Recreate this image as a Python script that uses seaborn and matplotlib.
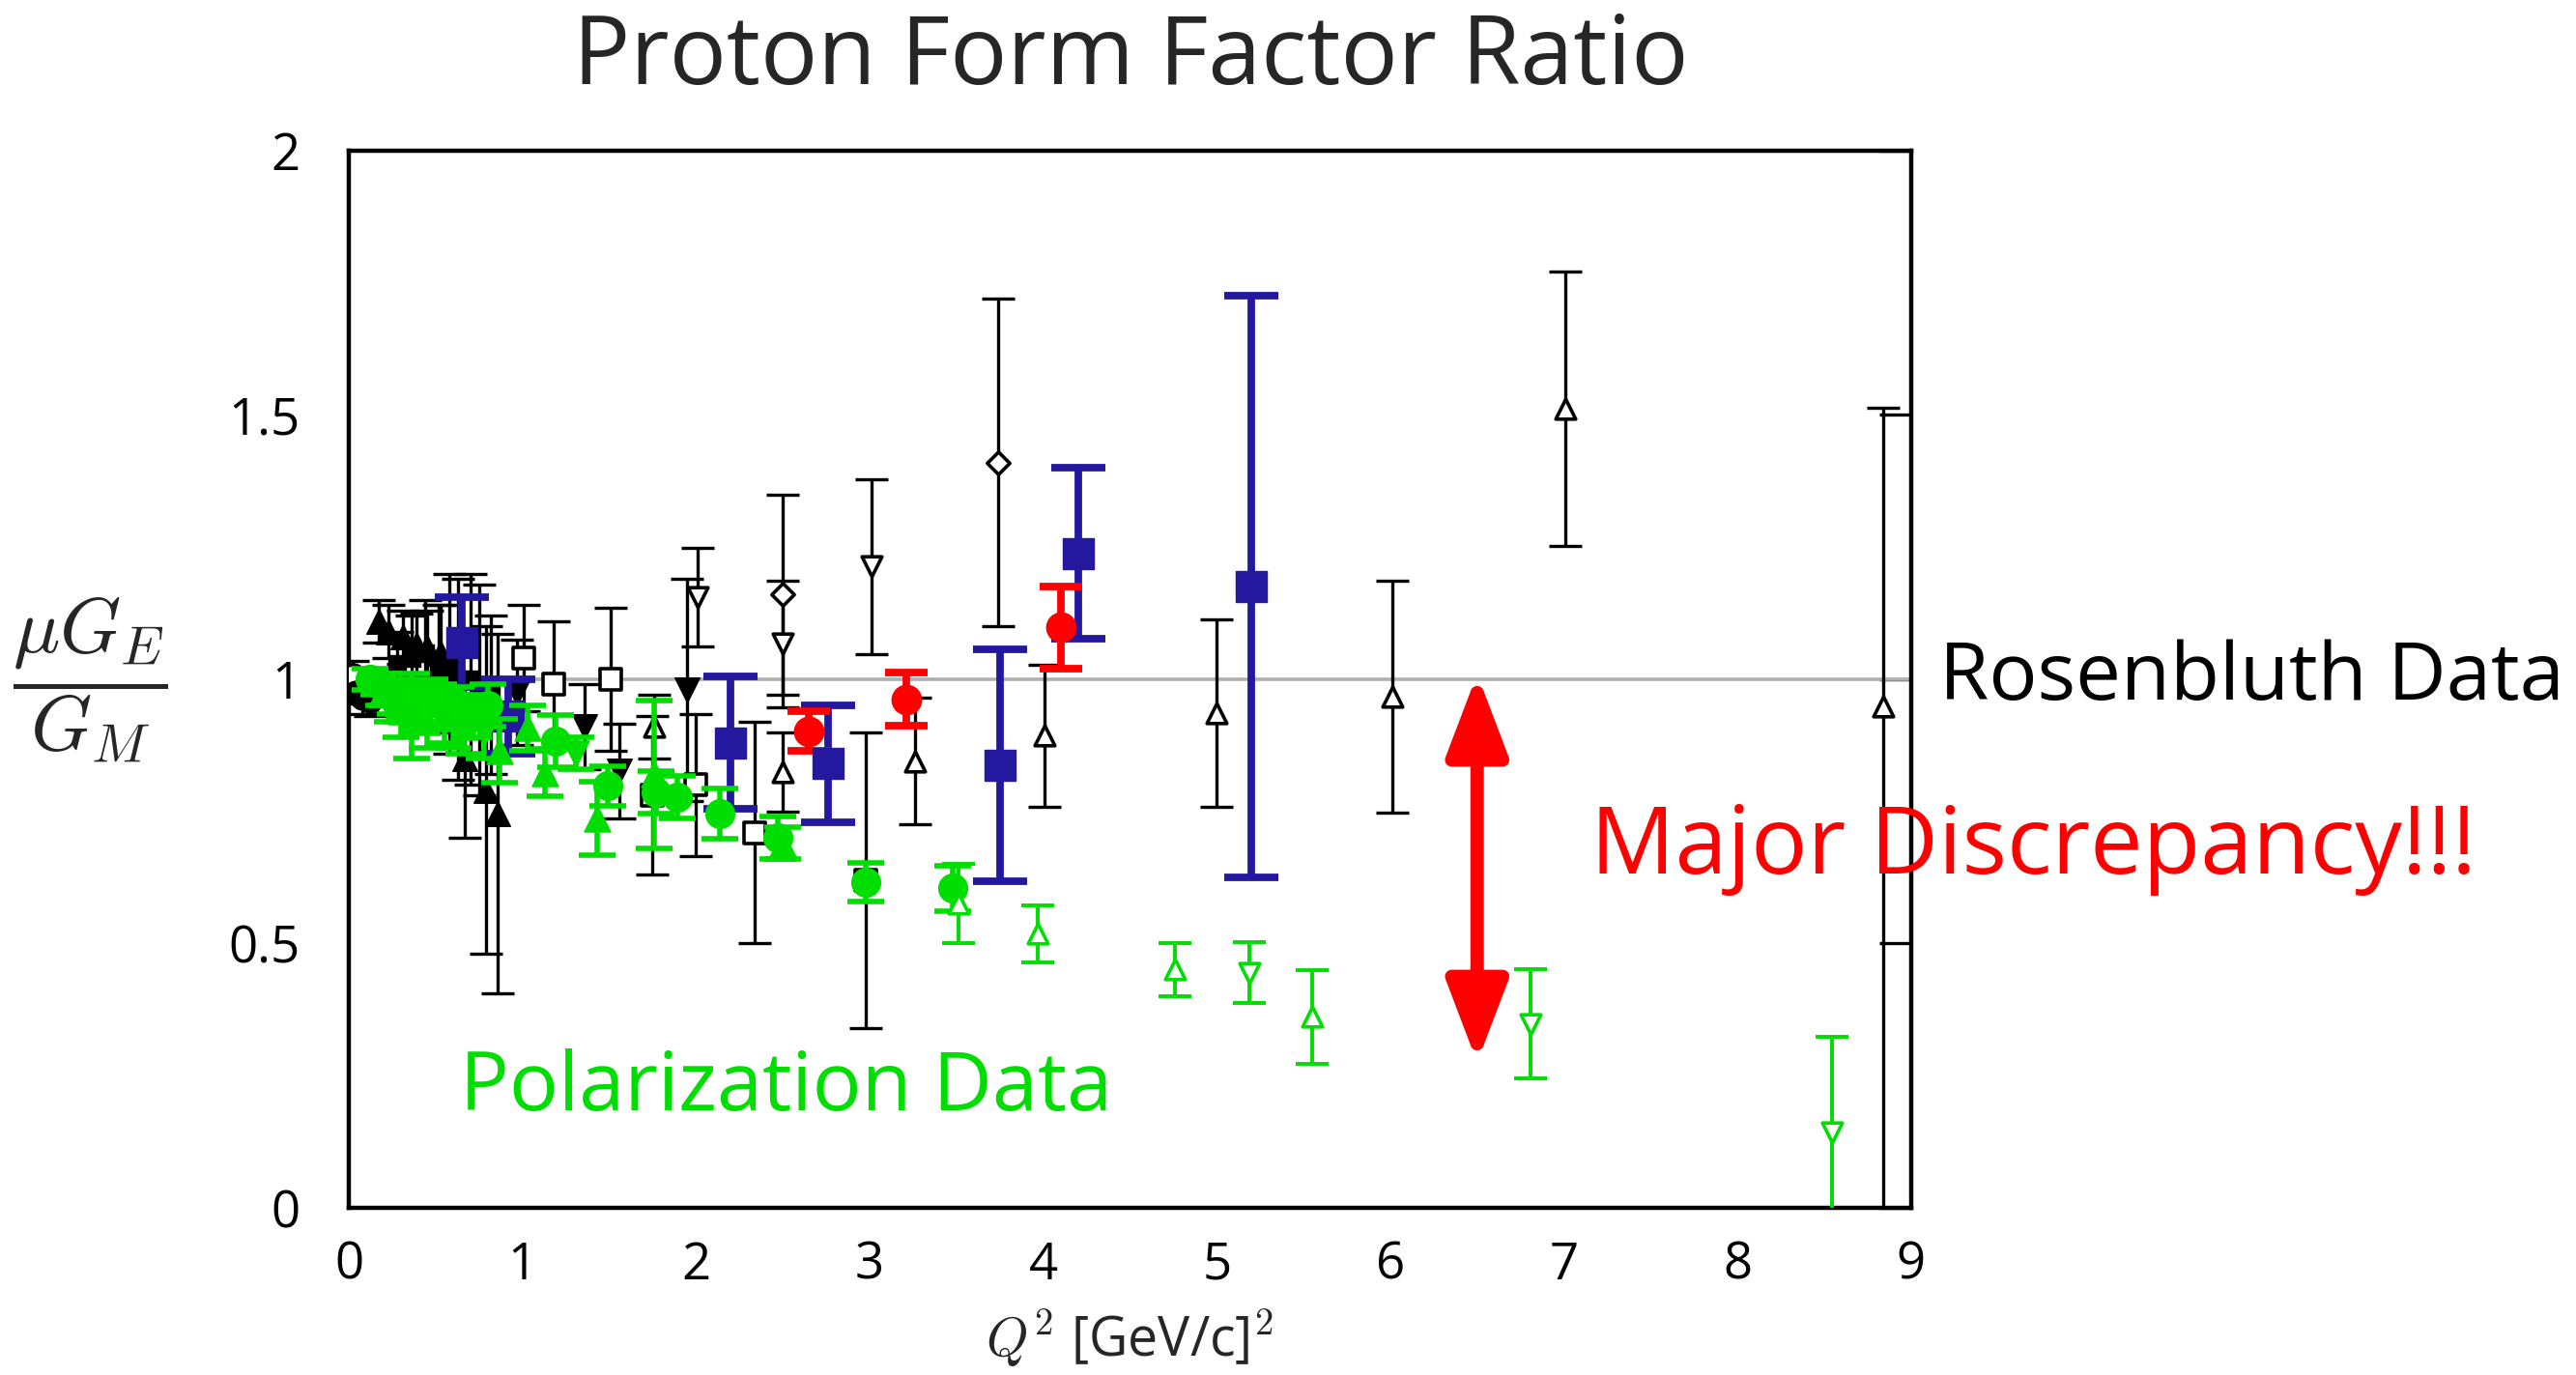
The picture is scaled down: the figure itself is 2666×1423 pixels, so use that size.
import numpy as np
import matplotlib
matplotlib.use("Agg")
import matplotlib.pyplot as plt
import seaborn as sns

# ---------------- data ----------------
# Rosenbluth (black)
bk_oc_x = [0.02]; bk_oc_y = [1.005]; bk_oc_e = [0.03]
bk_fc_x = [0.04, 0.08, 0.12, 0.16]; bk_fc_y = [0.975, 0.965, 0.96, 0.975]; bk_fc_e = [0.02, 0.03, 0.03, 0.04]
bk_ftu_x = [0.17, 0.23, 0.31, 0.39, 0.45, 0.53, 0.67, 0.79, 0.86]
bk_ftu_y = [1.11, 1.09, 1.08, 1.065, 1.06, 1.05, 0.85, 0.79, 0.745]
bk_ftu_e = [0.04, 0.05, 0.05, 0.06, 0.07, 0.09, 0.15, 0.31, 0.34]
bk_fs_x = [0.28, 0.36, 0.44, 0.52, 0.58, 0.63, 0.70, 0.75, 0.82]
bk_fs_y = [1.03, 1.04, 1.05, 1.02, 1.03, 1.00, 1.00, 0.98, 0.97]
bk_fs_e = [0.06, 0.08, 0.10, 0.12, 0.17, 0.19, 0.20, 0.20, 0.15]
bk_os_x = [1.01, 1.18, 1.51, 1.75, 2.00, 2.34, 2.98]
bk_os_y = [1.04, 0.99, 1.00, 0.78, 0.80, 0.71, 0.62]
bk_os_e = [0.10, 0.12, 0.135, 0.15, 0.135, 0.21, 0.28]
bk_ftd_x = [0.97, 1.36, 1.56, 1.95]; bk_ftd_y = [0.975, 0.91, 0.826, 0.98]; bk_ftd_e = [0.10, 0.08, 0.09, 0.21]
bk_otd_x = [2.01, 2.50, 3.01]; bk_otd_y = [1.155, 1.067, 1.213]; bk_otd_e = [0.093, 0.12, 0.165]
bk_od_x = [2.50, 3.74]; bk_od_y = [1.16, 1.41]; bk_od_e = [0.19, 0.31]
bk_otu_x = [1.76, 2.50, 3.26, 4.01, 5.00, 6.01, 7.01, 8.84]
bk_otu_y = [0.91, 0.825, 0.845, 0.893, 0.936, 0.967, 1.512, 0.949]
bk_otu_elo = [0.06, 0.075, 0.12, 0.135, 0.178, 0.22, 0.26, 1.20]
bk_otu_ehi = [0.06, 0.075, 0.12, 0.135, 0.178, 0.22, 0.26, 0.565]

# blue squares
bl_x = [0.65, 0.92, 2.20, 2.76, 3.75, 4.20, 5.20]
bl_y = [1.07, 0.93, 0.88, 0.84, 0.837, 1.238, 1.176]
bl_e = [0.085, 0.07, 0.125, 0.11, 0.22, 0.162, 0.55]

# red circles
rd_x = [2.65, 3.21, 4.10]; rd_y = [0.902, 0.962, 1.098]; rd_e = [0.037, 0.05, 0.078]

# Polarization (green)
gr_c_x = [0.12, 0.17, 0.22, 0.27, 0.32, 0.37, 0.42, 0.47, 0.52, 0.57, 0.62, 0.72, 0.80,
          1.19, 1.49, 1.77, 1.89, 2.14, 2.47, 2.98, 3.48]
gr_c_y = [1.00, 0.99, 0.975, 0.96, 0.955, 0.96, 0.945, 0.97, 0.955, 0.94, 0.95, 0.93, 0.95,
          0.883, 0.798, 0.786, 0.777, 0.746, 0.70, 0.616, 0.605]
gr_c_e = [0.02, 0.02, 0.025, 0.025, 0.03, 0.03, 0.03, 0.03, 0.035, 0.035, 0.035, 0.04, 0.04,
          0.05, 0.037, 0.04, 0.04, 0.047, 0.04, 0.037, 0.043]
gr_tu_x = [0.20, 0.30, 0.36, 0.45, 0.55, 0.66, 0.87, 1.03, 1.13, 1.43, 1.76, 2.50]
gr_tu_y = [0.98, 0.94, 0.93, 0.92, 0.93, 0.91, 0.865, 0.908, 0.823, 0.737, 0.82, 0.69]
gr_tu_e = [0.03, 0.05, 0.08, 0.05, 0.05, 0.05, 0.06, 0.043, 0.045, 0.07, 0.14, 0.03]
gr_td_x = [0.25, 0.40, 0.60, 0.78, 1.31]; gr_td_y = [0.96, 0.94, 0.92, 0.90, 0.86]; gr_td_e = [0.04, 0.04, 0.05, 0.05, 0.03]
gr_otu_x = [3.51, 3.97, 4.76, 5.55]; gr_otu_y = [0.575, 0.519, 0.451, 0.361]; gr_otu_e = [0.075, 0.054, 0.05, 0.088]
gr_otd_x = [5.19, 6.81, 8.545]; gr_otd_y = [0.445, 0.348, 0.143]
gr_otd_elo = [0.058, 0.104, 0.50]; gr_otd_ehi = [0.058, 0.104, 0.18]

x_ticks = [0, 1, 2, 3, 4, 5, 6, 7, 8, 9]
y_ticks = [0, 0.5, 1, 1.5, 2]
y_tick_labels = ["0", "0.5", "1", "1.5", "2"]

# ---------------- style ----------------
sns.set_theme(style="white")
plt.rcParams['font.family'] = ['Open Sans', 'DejaVu Sans']
plt.rcParams['mathtext.fontset'] = 'cm'

BLACK = "#000000"
GREEN = "#00dd00"
BLUE = "#24189e"
RED = "#ff0000"

fig = plt.figure(figsize=(13.33, 7.115), dpi=200)
ax = fig.add_axes([0.1354, 0.1216, 0.6065, 0.7688])
ax.set_xlim(0, 9)
ax.set_ylim(0, 2)

ax.axhline(1.0, color="#b0b0b0", lw=1.3, zorder=1)


def series(x, y, elo, ehi, color, marker, s, lw, cap, filled=True, z=3):
    ax.errorbar(x, y, yerr=[elo, ehi], fmt='none', ecolor=color, elinewidth=lw,
                capsize=cap, capthick=lw, zorder=z)
    if filled:
        sns.scatterplot(x=x, y=y, marker=marker, s=s, color=color, edgecolor=color,
                        linewidth=0.5, ax=ax, zorder=z + 0.5, legend=False)
    else:
        sns.scatterplot(x=x, y=y, marker=marker, s=s, facecolor="white", edgecolor=color,
                        linewidth=1.3, ax=ax, zorder=z + 0.5, legend=False)


# black
series(bk_fs_x, bk_fs_y, bk_fs_e, bk_fs_e, BLACK, 's', 45, 1.2, 6)
series(bk_ftu_x, bk_ftu_y, bk_ftu_e, bk_ftu_e, BLACK, '^', 85, 1.2, 6)
series(bk_oc_x, bk_oc_y, bk_oc_e, bk_oc_e, BLACK, 'o', 80, 1.2, 6, filled=False)
series(bk_fc_x, bk_fc_y, bk_fc_e, bk_fc_e, BLACK, 'o', 80, 1.2, 6)
series(bk_os_x, bk_os_y, bk_os_e, bk_os_e, BLACK, 's', 65, 1.2, 6, filled=False)
series(bk_ftd_x, bk_ftd_y, bk_ftd_e, bk_ftd_e, BLACK, 'v', 85, 1.2, 6)
series(bk_otd_x, bk_otd_y, bk_otd_e, bk_otd_e, BLACK, 'v', 55, 1.2, 6, filled=False)
series(bk_od_x, bk_od_y, bk_od_e, bk_od_e, BLACK, 'D', 35, 1.2, 6, filled=False)
series(bk_otu_x, bk_otu_y, bk_otu_elo, bk_otu_ehi, BLACK, '^', 55, 1.2, 6, filled=False)

# blue and red
series(bl_x, bl_y, bl_e, bl_e, BLUE, 's', 130, 2.8, 10, z=4)
series(rd_x, rd_y, rd_e, rd_e, RED, 'o', 120, 2.8, 8, z=4)

# green
series(gr_tu_x, gr_tu_y, gr_tu_e, gr_tu_e, GREEN, '^', 95, 2.0, 7, z=5)
series(gr_td_x, gr_td_y, gr_td_e, gr_td_e, GREEN, 'v', 95, 2.0, 7, z=5)
series(gr_c_x, gr_c_y, gr_c_e, gr_c_e, GREEN, 'o', 115, 2.0, 7, z=5)
series(gr_otu_x, gr_otu_y, gr_otu_e, gr_otu_e, GREEN, '^', 55, 1.4, 6, filled=False, z=5)
series(gr_otd_x, gr_otd_y, gr_otd_elo, gr_otd_ehi, GREEN, 'v', 55, 1.4, 6, filled=False, z=5)

# arrow
ax.annotate('', xy=(6.5, 0.275), xytext=(6.5, 1.01),
            arrowprops=dict(arrowstyle='<|-|>,head_length=0.5,head_width=0.19',
                            color=RED, lw=5, mutation_scale=50,
                            shrinkA=0, shrinkB=0), zorder=6)

# texts
ax.text(9.16, 1.0, "Rosenbluth Data", fontsize=30, color=BLACK, va='center', ha='left', clip_on=False)
ax.text(7.15, 0.68, "Major Discrepancy!!!", fontsize=35, color=RED, va='center', ha='left',
        clip_on=False, zorder=7)
ax.text(0.64, 0.224, "Polarization Data", fontsize=30.5, color=GREEN, va='center', ha='left')

fig.text(0.4388, 0.957, "Proton Form Factor Ratio", fontsize=35.5, ha='center', va='center')
fig.text(0.035, 0.506, r'$\dfrac{\mu G_E}{G_M}$', fontsize=29, ha='center', va='center')

ax.set_xticks(x_ticks)
ax.set_yticks(y_ticks)
ax.set_yticklabels(y_tick_labels)
ax.tick_params(direction='in', length=12, width=1.2, top=False, right=True,
               labelsize=19, colors=BLACK)
ax.tick_params(axis='y', pad=18)
ax.tick_params(axis='x', pad=12)
ax.set_xlabel(r'$Q^2$ [GeV/c]$^2$', fontsize=20, labelpad=6)
for sp in ax.spines.values():
    sp.set_color(BLACK)
    sp.set_linewidth(1.6)
    sp.set_visible(True)

fig.savefig("out.png", dpi=200, facecolor='white')
